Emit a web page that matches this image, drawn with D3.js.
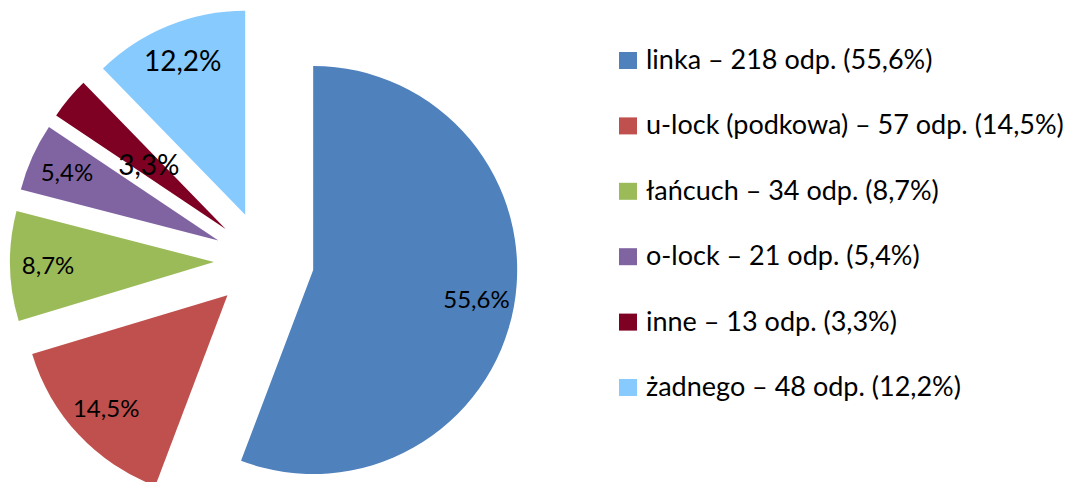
<!DOCTYPE html>
<html>
<head>
<meta charset="utf-8">
<script src="https://cdn.jsdelivr.net/npm/d3@7"></script>
<style>
  html, body { margin: 0; padding: 0; background: #fff; }
  svg text { font-family: Lato, "Open Sans", sans-serif; fill: #000; }
</style>
</head>
<body>
<div id="chart"></div>
<script>
// data
const categories = ["linka", "u-lock (podkowa)", "łańcuch", "o-lock", "inne", "żadnego"];
const counts = [218, 57, 34, 21, 13, 48];
const percentLabels = ["55,6%", "14,5%", "8,7%", "5,4%", "3,3%", "12,2%"];
const colors = ["#4F81BD", "#C0504D", "#9BBB59", "#8064A2", "#7E0023", "#86CAFE"];

const width = 1075, height = 482;
const cx = 264, cy = 261, radius = 204, explode = 50;

const svg = d3.select("#chart")
  .append("svg")
  .attr("width", width)
  .attr("height", height)
  .attr("viewBox", [0, 0, width, height]);

const pie = d3.pie().sort(null).value((d) => d.count);
const slices = pie(categories.map((name, i) => ({ name, count: counts[i], label: percentLabels[i], color: colors[i] })));

const arc = d3.arc().innerRadius(0).outerRadius(radius);

// the "inne" label sits closer to the centre, and the two last labels are bigger
const labelRadius = (i) => (i === 4 ? 100 : 166);
const labelSize = (i) => (i === 4 || i === 5 ? 28 : 24);

const g = svg.append("g").attr("transform", `translate(${cx},${cy})`);

const pieces = g.selectAll("g.slice")
  .data(slices)
  .join("g")
  .attr("class", "slice")
  .attr("transform", (d) => {
    const a = (d.startAngle + d.endAngle) / 2;
    return `translate(${explode * Math.sin(a)},${-explode * Math.cos(a)})`;
  });

pieces.append("path")
  .attr("d", arc)
  .attr("fill", (d) => d.data.color);

pieces.append("text")
  .attr("x", (d) => labelRadius(d.index) * Math.sin((d.startAngle + d.endAngle) / 2))
  .attr("y", (d) => -labelRadius(d.index) * Math.cos((d.startAngle + d.endAngle) / 2))
  .attr("dy", "0.36em")
  .attr("text-anchor", "middle")
  .style("font-size", (d) => labelSize(d.index) + "px")
  .text((d) => d.data.label);

// legend
const legend = svg.append("g").attr("transform", "translate(619,69)");
const rows = legend.selectAll("g")
  .data(slices)
  .join("g")
  .attr("transform", (d, i) => `translate(0,${i * 65.4})`);

rows.append("rect")
  .attr("x", 0).attr("y", -17)
  .attr("width", 18).attr("height", 17)
  .attr("fill", (d) => d.data.color);

rows.append("text")
  .attr("x", 27)
  .attr("y", 0)
  .style("font-size", "27px")
  .text((d) => `${d.data.name} – ${d.data.count} odp. (${d.data.label})`);
</script>
</body>
</html>
